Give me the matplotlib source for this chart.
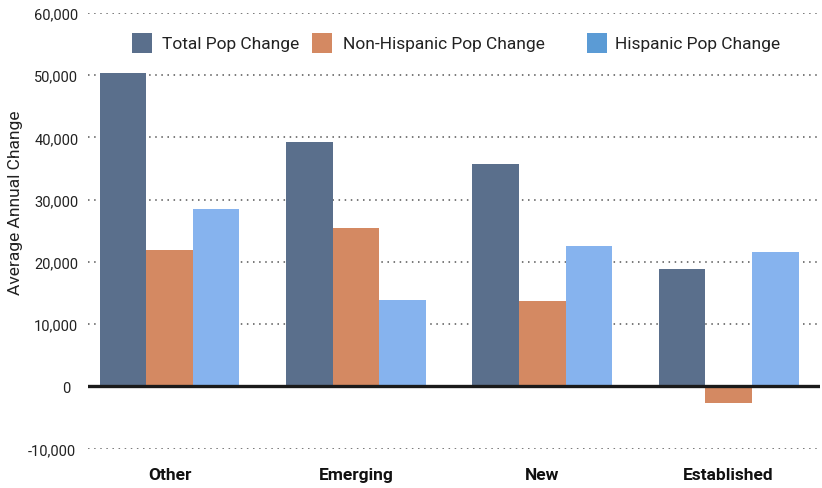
import matplotlib
matplotlib.use("Agg")
import matplotlib.pyplot as plt
import matplotlib.transforms as mtrans
import numpy as np
from matplotlib.patches import Rectangle

categories = ["Other", "Emerging", "New", "Established"]
total_pop = [50300, 39200, 35800, 18800]
non_hispanic_pop = [21900, 25400, 13700, -2700]
hispanic_pop = [28500, 13900, 22500, 21600]
series_names = ["Total Pop Change", "Non-Hispanic Pop Change", "Hispanic Pop Change"]
y_ticks = [-10000, 0, 10000, 20000, 30000, 40000, 50000, 60000]

bar_colors = ["#5a6f8c", "#d48962", "#86b3ee"]
legend_colors = ["#5a6f8c", "#d48962", "#5b9bd5"]

plt.rcParams['font.family'] = ["Roboto", "DejaVu Sans"]

W, H = 822, 489
fig = plt.figure(figsize=(W / 100, H / 100), dpi=100)
left, right, top, bottom = 88, 820, 14, 449.6
ax = fig.add_axes([left / W, 1 - bottom / H, (right - left) / W, (bottom - top) / H])

x = np.arange(len(categories))
bw = 0.25
for i, (vals, col) in enumerate(zip([total_pop, non_hispanic_pop, hispanic_pop], bar_colors)):
    ax.bar(x + (i - 1) * bw, vals, width=bw, color=col, zorder=2, linewidth=0)

ax.set_xlim(-0.4375, 3.49)
ax.set_ylim(-10000, 60000)
ax.set_yticks(y_ticks)
ax.set_yticklabels([f"{v:,}" for v in y_ticks], fontsize=10.5, color="#222222")
ax.set_xticks(x)
ax.set_xticklabels(categories, fontsize=12.5, fontweight="bold", color="#111111")
ax.tick_params(axis="y", length=0, pad=7)
ax.tick_params(axis="x", length=0, pad=13)
for s in ax.spines.values():
    s.set_visible(False)

fig.canvas.draw()
for v, lab in zip(y_ticks, ax.get_yticklabels()):
    if v == 0:
        lab.set_transform(lab.get_transform() + mtrans.ScaledTranslation(-8 / 100, 0, fig.dpi_scale_trans))
    elif v == -10000:
        lab.set_transform(lab.get_transform() + mtrans.ScaledTranslation(-2 / 100, 0, fig.dpi_scale_trans))

for v in y_ticks:
    if v != 0:
        ax.axhline(v, color="#555555", linestyle=(0, (1, 3)), linewidth=1.1, zorder=1)
ax.axhline(0, color="#1a1a1a", linewidth=2.4, zorder=3)

ax.set_ylabel("Average Annual Change", fontsize=12.5, color="#222222")
ax.yaxis.set_label_coords((23 - left) / (right - left), (bottom - 203) / (bottom - top))

# legend
sw_x = [132, 312, 587]
txt_x = [162, 343, 615]
ly = 44
for sx, tx, col, name in zip(sw_x, txt_x, legend_colors, series_names):
    fig.add_artist(Rectangle((sx / W, 1 - (ly + 10) / H), 20 / W, 20 / H,
                             transform=fig.transFigure, color=col, linewidth=0))
    fig.text(tx / W, 1 - ly / H, name, fontsize=12.5, va="center", ha="left", color="#222222")

fig.savefig("out.png", dpi=100)
